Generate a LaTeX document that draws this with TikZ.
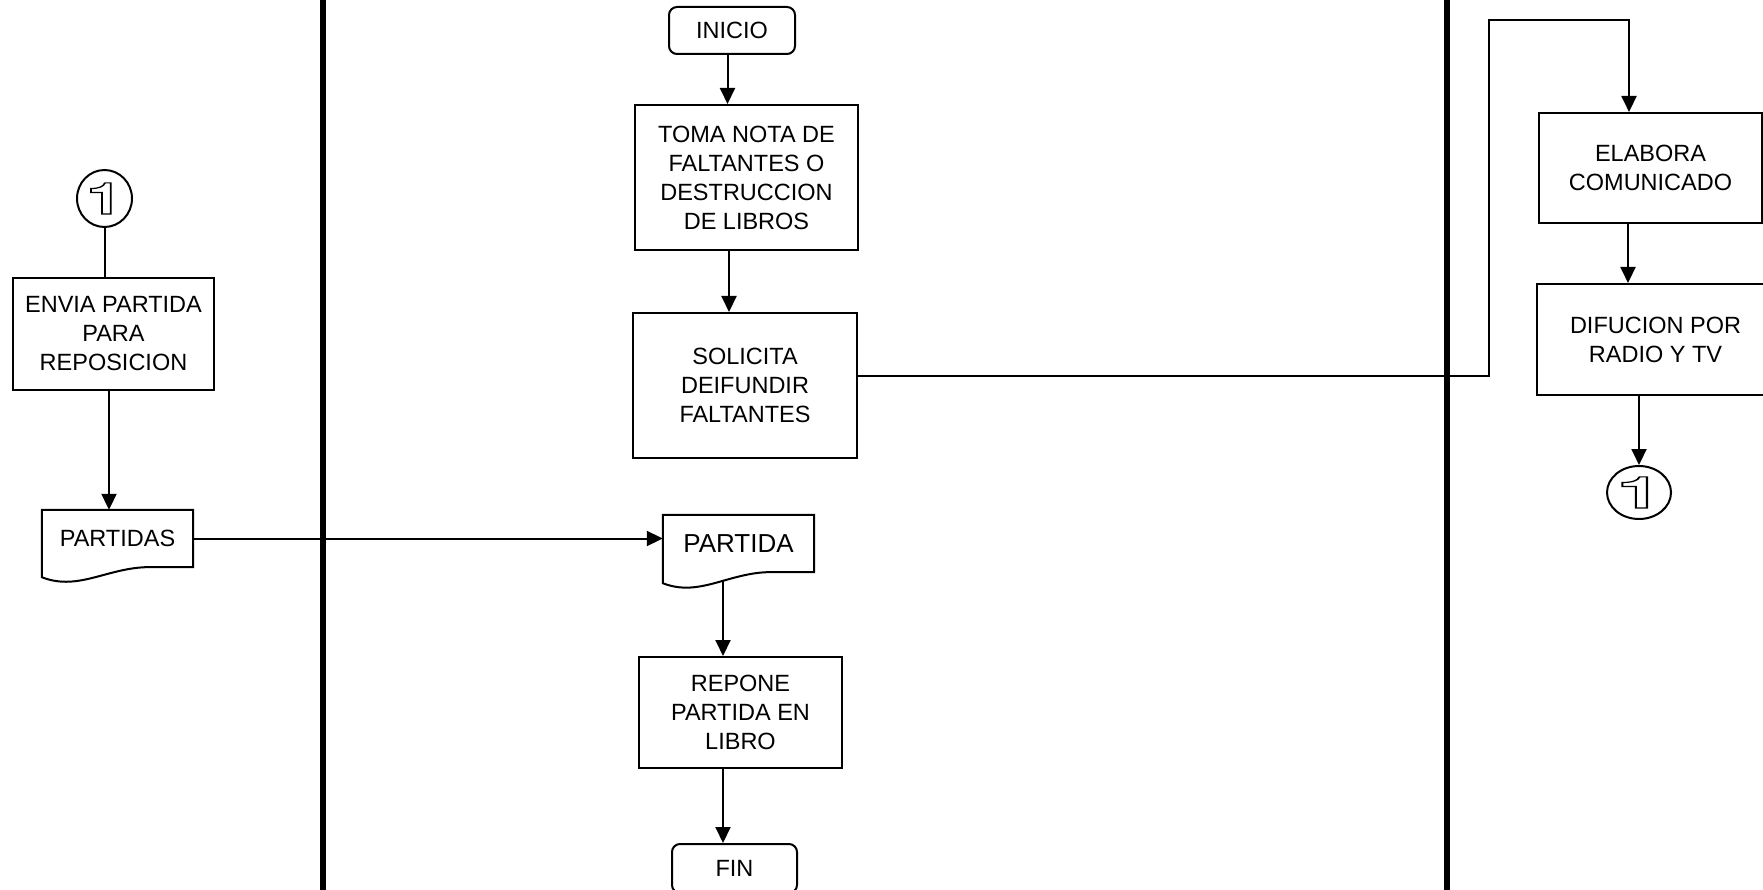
\documentclass[tikz,border=0pt]{standalone}
\usepackage{fontspec}
\usepackage{graphicx}
\setmainfont{Liberation Sans}
\newfontfamily\digitfont{TeX Gyre Heros}
\usetikzlibrary{arrows.meta,shapes.geometric,calc}
\newcommand{\outlinedigit}[2]{{\digitfont\fontsize{44}{44}\selectfont\bfseries\scalebox{#1}[1]{\special{pdf:literal direct 1 Tr 1.2 w}#2\special{pdf:literal direct 0 Tr}}}}
\begin{document}
\begin{tikzpicture}[x=1pt,y=-1pt,
  lw/.style={line width=2pt},
  txt/.style={font=\fontsize{23.5}{29}\selectfont, align=center, inner sep=0pt},
  proc/.style={txt, draw, lw, rectangle},
  term/.style={txt, draw, lw, rectangle, rounded corners=8pt},
  docbox/.style={txt, rectangle},
  circ/.style={draw, lw, ellipse, inner sep=0pt},
  conn/.style={lw, -{Triangle[length=16pt,width=15pt]}},
  lane/.style={line width=6pt}]
\useasboundingbox (0,0) rectangle (1763,890);
% lanes
\draw[lane] (323,-5) -- (323,895);
\draw[lane] (1447,-5) -- (1447,895);
% left column
\node[circ, minimum width=55pt, minimum height=57pt] (c1) at (104.5,198.5) {\outlinedigit{1.45}{1}};
\node[proc, minimum width=201pt, minimum height=112pt] (env) at (113.5,334) {ENVIA PARTIDA\\PARA\\REPOSICION};
\node[docbox, minimum width=151pt, minimum height=57pt] (pds) at (117.5,538.5) {PARTIDAS};
% middle column
\node[term, minimum width=126pt, minimum height=47pt] (ini) at (732,30.5) {INICIO};
\node[proc, minimum width=223pt, minimum height=145pt] (toma) at (746.5,177.5) {TOMA NOTA DE\\FALTANTES O\\DESTRUCCION\\DE LIBROS};
\node[proc, minimum width=224pt, minimum height=145pt] (sol) at (745,385.5) {SOLICITA\\DEIFUNDIR\\FALTANTES};
\node[docbox, minimum width=151pt, minimum height=57pt, font=\fontsize{26}{30}\selectfont] (pda) at (738.5,543.5) {PARTIDA};
\node[proc, minimum width=203pt, minimum height=111pt] (rep) at (740.5,712.5) {REPONE\\PARTIDA EN\\LIBRO};
\node[term, minimum width=125pt, minimum height=49pt] (fin) at (734.5,868.5) {FIN};
% right column
\node[proc, minimum width=223pt, minimum height=110pt] (elab) at (1650.5,168) {ELABORA\\COMUNICADO};
\node[proc, minimum width=237pt, minimum height=111pt] (dif) at (1655.5,339.5) {DIFUCION POR\\RADIO Y TV};
\node[circ, minimum width=64pt, minimum height=53pt] (c2) at (1639,492.5) {\outlinedigit{1.8}{1}};
% document outlines
\draw[lw] (pds.south east) -- (pds.north east) -- (pds.north west) -- ($(pds.south west)+(0,10)$)
  .. controls ($(pds.south west)+(38,25)$) and ($(pds.south west)+(68,-2)$) .. ($(pds.south west)+(113,0)$) -- cycle;
\draw[lw] (pda.south east) -- (pda.north east) -- (pda.north west) -- ($(pda.south west)+(0,11)$)
  .. controls ($(pda.south west)+(38,26)$) and ($(pda.south west)+(68,-2)$) .. ($(pda.south west)+(113,0)$) -- cycle;
% connectors
\coordinate (k1) at (1489,20);
\draw[lw] (c1.south) -- (c1.south |- env.north);
\draw[conn] ([xshift=-4.5pt]env.south) -- ([xshift=-4.5pt]env.south |- pds.north);
\draw[conn] (pds.east) -- (pds.east -| pda.west);
\draw[conn] ([xshift=-4.5pt]ini.south) -- ([xshift=-4.5pt]ini.south |- toma.north);
\draw[conn] ([xshift=-17.5pt]toma.south) -- ([xshift=-17.5pt]toma.south |- sol.north);
\draw[conn] ([yshift=9.5pt]sol.east) -| (k1) -| ([xshift=-21.5pt]elab.north);
\draw[conn] ([xshift=-22.5pt]elab.south) -- ([xshift=-22.5pt]elab.south |- dif.north);
\draw[conn] (dif.south -| c2.north) -- (c2.north);
\draw[conn] ([xshift=-15.5pt,yshift=-9pt]pda.south) -- ([xshift=-15.5pt]pda.south |- rep.north);
\draw[conn] ([xshift=-17.5pt]rep.south) -- ([xshift=-17.5pt]rep.south |- fin.north);
\end{tikzpicture}
\end{document}
